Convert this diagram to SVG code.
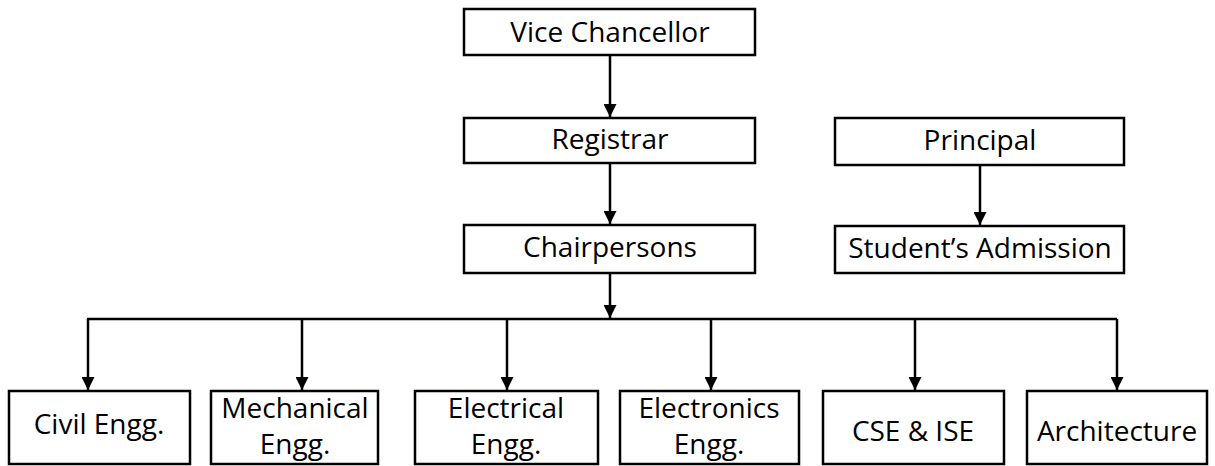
<svg xmlns="http://www.w3.org/2000/svg" width="1215" height="466" viewBox="0 0 1215 466">
<style>
.box{fill:#fff;stroke:#000;stroke-width:2.5}
.t{font-family:"Open Sans","Liberation Sans",sans-serif;font-size:28px;fill:#000;text-anchor:middle}
.c{fill:none;stroke:#000;stroke-width:2.5}
</style>
<defs>
<marker id="ah" viewBox="0 0 13 13" refX="13" refY="6.5" markerWidth="13" markerHeight="13" markerUnits="userSpaceOnUse" orient="auto">
<path d="M0,0 L13,6.5 L0,13 Z" fill="#000"/>
</marker>
</defs>
<rect width="1215" height="466" fill="#fff"/>
<g id="connectors">
<line class="c" x1="610" y1="55" x2="610" y2="117" marker-end="url(#ah)"/>
<line class="c" x1="610" y1="163" x2="610" y2="224" marker-end="url(#ah)"/>
<line class="c" x1="980" y1="165" x2="980" y2="225" marker-end="url(#ah)"/>
<line class="c" x1="610" y1="273" x2="610" y2="318" marker-end="url(#ah)"/>
<line class="c" x1="87" y1="319" x2="1117" y2="319"/>
<line class="c" x1="88" y1="319" x2="88" y2="390" marker-end="url(#ah)"/>
<line class="c" x1="302" y1="319" x2="302" y2="390" marker-end="url(#ah)"/>
<line class="c" x1="507" y1="319" x2="507" y2="390" marker-end="url(#ah)"/>
<line class="c" x1="711" y1="319" x2="711" y2="390" marker-end="url(#ah)"/>
<line class="c" x1="915" y1="319" x2="915" y2="390" marker-end="url(#ah)"/>
<line class="c" x1="1117" y1="319" x2="1117" y2="390" marker-end="url(#ah)"/>
</g>
<g id="vice-chancellor"><rect class="box" x="464" y="9" width="291" height="46"/><text class="t" x="610" y="42">Vice Chancellor</text></g>
<g id="registrar"><rect class="box" x="464" y="118" width="291" height="45"/><text class="t" x="610" y="149">Registrar</text></g>
<g id="chairpersons"><rect class="box" x="464" y="225" width="291" height="48"/><text class="t" x="610" y="257">Chairpersons</text></g>
<g id="principal"><rect class="box" x="835" y="118" width="289" height="47"/><text class="t" x="980" y="150">Principal</text></g>
<g id="students-admission"><rect class="box" x="835" y="226" width="289" height="47"/><text class="t" x="980" y="258">Student’s Admission</text></g>
<g id="civil"><rect class="box" x="9" y="391" width="181" height="73"/><text class="t" x="99" y="434">Civil Engg.</text></g>
<g id="mechanical"><rect class="box" x="211" y="391" width="167" height="73"/><text class="t" x="295" y="418">Mechanical</text><text class="t" x="295" y="454">Engg.</text></g>
<g id="electrical"><rect class="box" x="415" y="391" width="183" height="73"/><text class="t" x="506" y="418">Electrical</text><text class="t" x="506" y="454">Engg.</text></g>
<g id="electronics"><rect class="box" x="620" y="391" width="179" height="73"/><text class="t" x="709" y="418">Electronics</text><text class="t" x="709" y="454">Engg.</text></g>
<g id="cse-ise"><rect class="box" x="823" y="391" width="181" height="73"/><text class="t" x="913" y="441">CSE &amp; ISE</text></g>
<g id="architecture"><rect class="box" x="1027" y="391" width="180" height="73"/><text class="t" x="1117" y="441">Architecture</text></g>
</svg>
